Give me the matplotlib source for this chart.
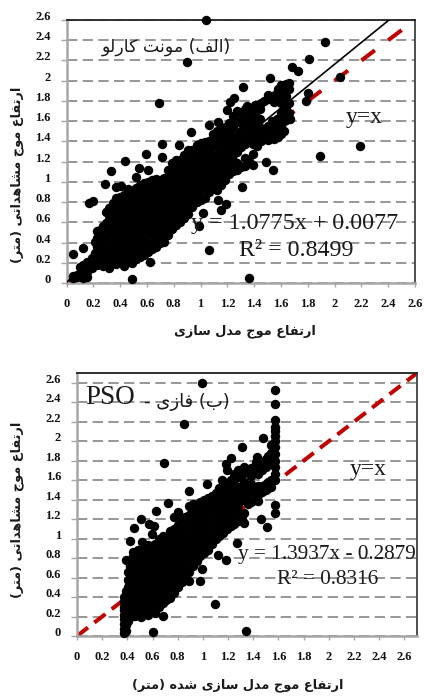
import matplotlib
matplotlib.use('Agg')
import matplotlib.pyplot as plt

W, H = 424, 697

# اشکال حروف: (isolated, final, initial, medial)
FORMS = {
    'ا': (0xFE8D, 0xFE8E, None, None), 'ب': (0xFE8F, 0xFE90, 0xFE91, 0xFE92),
    'ت': (0xFE95, 0xFE96, 0xFE97, 0xFE98), 'ج': (0xFE9D, 0xFE9E, 0xFE9F, 0xFEA0),
    'د': (0xFEA9, 0xFEAA, None, None), 'ر': (0xFEAD, 0xFEAE, None, None),
    'ز': (0xFEAF, 0xFEB0, None, None), 'س': (0xFEB1, 0xFEB2, 0xFEB3, 0xFEB4),
    'ش': (0xFEB5, 0xFEB6, 0xFEB7, 0xFEB8), 'ع': (0xFEC9, 0xFECA, 0xFECB, 0xFECC),
    'ف': (0xFED1, 0xFED2, 0xFED3, 0xFED4), 'ک': (0xFB8E, 0xFB8F, 0xFB90, 0xFB91),
    'ل': (0xFEDD, 0xFEDE, 0xFEDF, 0xFEE0), 'م': (0xFEE1, 0xFEE2, 0xFEE3, 0xFEE4),
    'ن': (0xFEE5, 0xFEE6, 0xFEE7, 0xFEE8), 'ه': (0xFEE9, 0xFEEA, 0xFEEB, 0xFEEC),
    'و': (0xFEED, 0xFEEE, None, None), 'ی': (0xFBFC, 0xFBFD, 0xFBFE, 0xFBFF),
}
MIRROR = {'(': ')', ')': '('}


def fa(text):
    # matplotlib does not shape Arabic script, so pick the forms and reverse
    out = []
    for i, c in enumerate(text):
        if c not in FORMS:
            out.append(MIRROR.get(c, c))
            continue
        prev = text[i - 1] if i > 0 else ''
        nxt = text[i + 1] if i + 1 < len(text) else ''
        from_prev = prev in FORMS and FORMS[prev][2] is not None
        to_next = nxt in FORMS and FORMS[c][2] is not None
        idx = {(0, 0): 0, (1, 0): 1, (0, 1): 2, (1, 1): 3}[(int(from_prev), int(to_next))]
        out.append(chr(FORMS[c][idx]))
    return ''.join(reversed(out))


# الف - مونت کارلو
outliers_a = [(1.04, 2.6), (1.93, 2.38), (0.90, 2.18), (1.81, 2.21), (1.68, 2.14), (1.73, 2.10),
              (2.04, 2.04), (1.52, 2.03), (1.32, 1.94), (0.69, 1.78), (2.19, 1.35), (1.89, 1.26),
              (1.49, 1.20), (1.54, 1.12), (1.31, 0.95), (1.06, 0.33), (1.36, 0.05), (0.49, 0.04),
              (0.62, 0.21), (0.05, 0.29), (0.12, 0.35), (0.17, 0.795), (0.20, 0.81), (0.33, 1.105),
              (0.29, 0.98), (0.44, 1.21), (0.54, 1.14), (0.61, 1.115), (0.52, 1.05), (0.59, 1.28),
              (0.71, 1.25), (0.71, 1.37), (0.84, 1.36), (0.93, 1.49), (1.06, 1.56), (1.13, 1.59),
              (1.25, 1.83), (1.22, 1.79), (1.20, 1.71), (1.02, 0.69), (0.99, 0.56), (1.19, 0.78),
              (1.155, 0.72), (1.13, 0.825), (0.41, 0.96), (0.37, 0.95), (1.80, 1.88), (1.79, 1.80),
              (1.67, 1.62), (1.64, 1.61)]
cloud_a = [
    (0.05, [0.07, 0.05]), (0.08, [0.06, 0.08]), (0.12, [0.05, 0.08, 0.13, 0.18]),
    (0.15, [0.06, 0.11, 0.16, 0.21]), (0.19, [0.15, 0.21, 0.25]),
    (0.23, [0.18, 0.27, 0.36, 0.44, 0.51]), (0.27, [0.17, 0.24, 0.32, 0.40, 0.48, 0.56]),
    (0.32, [0.15, 0.23, 0.31, 0.39, 0.47, 0.55, 0.63, 0.68, 0.74]),
    (0.37, [0.19, 0.27, 0.35, 0.43, 0.51, 0.59, 0.67, 0.75, 0.84]),
    (0.43, [0.17, 0.25, 0.33, 0.41, 0.49, 0.57, 0.65, 0.73, 0.80, 0.87]),
    (0.49, [0.20, 0.27, 0.35, 0.43, 0.51, 0.59, 0.67, 0.75, 0.83, 0.91]),
    (0.55, [0.26, 0.33, 0.41, 0.49, 0.57, 0.65, 0.73, 0.81, 0.89, 0.97]),
    (0.61, [0.31, 0.39, 0.47, 0.55, 0.63, 0.71, 0.79, 0.87, 0.95, 1.00]),
    (0.67, [0.36, 0.44, 0.52, 0.60, 0.68, 0.76, 0.84, 0.92, 1.00, 1.03]),
    (0.73, [0.41, 0.49, 0.57, 0.65, 0.73, 0.81, 0.89, 0.97, 1.04]),
    (0.79, [0.53, 0.61, 0.69, 0.77, 0.85, 0.93, 1.01, 1.09, 1.19]),
    (0.85, [0.60, 0.68, 0.76, 0.84, 0.92, 1.00, 1.08, 1.16, 1.22]),
    (0.91, [0.68, 0.76, 0.84, 0.92, 1.00, 1.08, 1.16, 1.24, 1.31]),
    (0.97, [0.80, 0.88, 0.96, 1.04, 1.12, 1.20, 1.28, 1.36]),
    (1.03, [0.84, 0.94, 1.02, 1.10, 1.18, 1.26, 1.34, 1.39]),
    (1.09, [0.95, 1.03, 1.11, 1.19, 1.27, 1.35, 1.43, 1.47]),
    (1.15, [0.97, 1.06, 1.14, 1.22, 1.30, 1.38, 1.46, 1.52]),
    (1.21, [1.08, 1.15, 1.24, 1.32, 1.40, 1.48, 1.58]),
    (1.27, [1.12, 1.19, 1.30, 1.37, 1.46, 1.60, 1.70]),
    (1.33, [1.16, 1.24, 1.37, 1.43, 1.55, 1.63, 1.72]),
    (1.39, [1.17, 1.28, 1.37, 1.47, 1.55, 1.67, 1.73]),
    (1.45, [1.40, 1.47, 1.53, 1.78]),
    (1.50, [1.41, 1.50, 1.55, 1.82, 1.86]),
    (1.55, [1.42, 1.51, 1.57, 1.79, 1.85]),
    (1.60, [1.47, 1.55, 1.68, 1.78, 1.88, 1.96]),
    (1.64, [1.72, 1.85, 1.97]),
    # the dense core, between the columns above
    (0.10, [0.10, 0.16]), (0.21, [0.22, 0.30, 0.41]), (0.25, [0.20, 0.28, 0.36, 0.44, 0.52]),
    (0.295, [0.19, 0.27, 0.35, 0.43, 0.51, 0.59, 0.70]),
    (0.345, [0.23, 0.31, 0.39, 0.47, 0.55, 0.63, 0.71, 0.79]),
    (0.40, [0.21, 0.29, 0.37, 0.45, 0.53, 0.61, 0.69, 0.77, 0.85]),
    (0.46, [0.21, 0.29, 0.37, 0.45, 0.53, 0.61, 0.69, 0.77, 0.85, 0.93]),
    (0.52, [0.24, 0.31, 0.39, 0.47, 0.55, 0.63, 0.71, 0.79, 0.87, 0.94]),
    (0.58, [0.28, 0.37, 0.45, 0.53, 0.61, 0.69, 0.77, 0.85, 0.93, 0.99]),
    (0.64, [0.34, 0.40, 0.48, 0.56, 0.64, 0.72, 0.80, 0.88, 0.96, 1.02]),
    (0.70, [0.40, 0.46, 0.54, 0.62, 0.70, 0.78, 0.86, 0.94, 1.02]),
    (0.76, [0.47, 0.55, 0.63, 0.71, 0.79, 0.87, 0.95, 1.03, 1.12]),
    (0.82, [0.57, 0.65, 0.73, 0.81, 0.89, 0.97, 1.05, 1.13, 1.22]),
    (0.88, [0.64, 0.72, 0.80, 0.88, 0.96, 1.04, 1.12, 1.20, 1.27]),
    (0.94, [0.75, 0.83, 0.91, 0.99, 1.07, 1.15, 1.23, 1.31]),
    (1.00, [0.82, 0.92, 1.00, 1.08, 1.16, 1.24, 1.32, 1.38]),
    (1.06, [0.90, 1.00, 1.08, 1.16, 1.24, 1.32, 1.40]),
    (1.12, [0.92, 1.02, 1.10, 1.18, 1.26, 1.34, 1.42, 1.50]),
    (1.18, [1.02, 1.12, 1.20, 1.28, 1.36, 1.44, 1.54]),
    (1.24, [1.11, 1.22, 1.28, 1.36, 1.44, 1.54, 1.65]),
    (1.30, [1.15, 1.34, 1.40, 1.50, 1.58, 1.68]),
    (1.36, [1.21, 1.41, 1.50, 1.60, 1.70]),
    (1.42, [1.35, 1.44, 1.50, 1.63, 1.71]),
    (1.47, [1.43, 1.50, 1.80]), (1.58, [1.44, 1.60, 1.82, 1.92]),
    # upper arm, around and above the fit
    (1.35, [1.66, 1.75]), (1.41, [1.60, 1.76]), (1.44, [1.62, 1.72]), (1.53, [1.46, 1.60, 1.85]),
    (1.57, [1.52, 1.62, 1.88]), (1.62, [1.50, 1.60, 1.72, 1.90]), (1.66, [1.68, 1.78, 1.92, 1.98]),
]

# ب - فازی PSO
outliers_b = [(0.99, 2.6), (1.57, 2.53), (1.57, 2.38), (1.57, 2.215), (0.85, 2.18), (1.31, 1.94),
              (1.48, 2.03), (0.69, 1.78), (1.57, 1.35), (1.57, 1.26), (1.46, 1.20), (1.51, 1.12),
              (1.27, 0.955), (1.18, 0.78), (1.12, 0.83), (0.99, 0.69), (0.98, 0.56), (0.89, 0.565),
              (1.095, 0.33), (1.34, 0.05), (0.60, 0.04), (0.68, 0.21), (0.51, 1.205), (0.45, 1.11),
              (0.57, 1.15), (0.61, 1.13), (0.595, 1.05), (0.63, 1.28), (0.72, 1.37), (0.42, 0.98),
              (0.515, 0.965), (0.445, 0.86), (0.39, 0.785), (0.89, 1.49), (1.03, 1.56), (1.15, 1.60),
              (1.22, 1.83), (1.18, 1.77), (1.19, 1.70), (1.43, 1.84), (1.42, 1.79)]
cloud_b = [
    (0.37, [0.03, 0.07, 0.12, 0.17, 0.30, 0.35]), (0.39, [0.05, 0.11, 0.18, 0.25, 0.32, 0.39, 0.46]),
    (0.42, [0.19, 0.26, 0.33, 0.40, 0.47, 0.54, 0.61, 0.72]),
    (0.46, [0.21, 0.28, 0.35, 0.42, 0.49, 0.56, 0.63, 0.70, 0.78, 0.84]),
    (0.51, [0.20, 0.28, 0.36, 0.44, 0.52, 0.60, 0.68, 0.76, 0.82]),
    (0.56, [0.22, 0.30, 0.38, 0.46, 0.54, 0.62, 0.70, 0.78, 0.85, 0.93]),
    (0.62, [0.24, 0.32, 0.40, 0.48, 0.56, 0.64, 0.72, 0.80, 0.88, 0.94]),
    (0.68, [0.34, 0.42, 0.50, 0.58, 0.66, 0.74, 0.82, 0.90, 0.98, 1.03]),
    (0.74, [0.39, 0.47, 0.55, 0.63, 0.71, 0.79, 0.87, 0.95, 1.03, 1.08]),
    (0.80, [0.50, 0.58, 0.66, 0.74, 0.82, 0.90, 0.98, 1.06, 1.14, 1.27]),
    (0.86, [0.60, 0.68, 0.76, 0.84, 0.92, 1.00, 1.08, 1.16, 1.22]),
    (0.92, [0.72, 0.80, 0.88, 0.96, 1.04, 1.12, 1.20, 1.28, 1.36]),
    (0.98, [0.82, 0.90, 0.98, 1.06, 1.14, 1.22, 1.30, 1.38]),
    (1.04, [0.88, 0.96, 1.04, 1.12, 1.20, 1.28, 1.36, 1.42]),
    (1.10, [1.00, 1.08, 1.16, 1.24, 1.32, 1.40, 1.47]),
    (1.16, [1.06, 1.14, 1.22, 1.30, 1.38, 1.46, 1.54]),
    (1.22, [1.13, 1.20, 1.28, 1.36, 1.44, 1.52, 1.60]),
    (1.28, [1.18, 1.28, 1.36, 1.44, 1.53, 1.63, 1.70]),
    (1.33, [1.16, 1.26, 1.42, 1.50, 1.58, 1.67, 1.73]),
    (1.38, [1.38, 1.48, 1.56, 1.64, 1.72]),
    (1.44, [1.39, 1.45, 1.54, 1.66, 1.74]),
    (1.50, [1.50, 1.56, 1.73, 1.82]),
    (1.54, [1.53, 1.60, 1.82, 1.88, 1.96]),
    (1.575, [1.60, 1.66, 1.73, 1.80, 1.87, 1.94, 2.00, 2.05, 2.10, 2.15]),
    # the dense core, between the columns above
    (0.375, [0.22, 0.27, 0.40]), (0.405, [0.15, 0.22, 0.29, 0.36, 0.43, 0.50, 0.57, 0.66]),
    (0.44, [0.22, 0.30, 0.38, 0.45, 0.52, 0.59, 0.66, 0.74, 0.80]),
    (0.485, [0.24, 0.32, 0.40, 0.48, 0.56, 0.64, 0.72, 0.79, 0.88]),
    (0.535, [0.24, 0.34, 0.42, 0.50, 0.58, 0.66, 0.74, 0.81, 0.89]),
    (0.59, [0.26, 0.36, 0.44, 0.52, 0.60, 0.68, 0.76, 0.84, 0.92]),
    (0.65, [0.30, 0.38, 0.46, 0.54, 0.62, 0.70, 0.78, 0.86, 0.94, 1.00]),
    (0.71, [0.37, 0.45, 0.53, 0.61, 0.69, 0.77, 0.85, 0.93, 1.01]),
    (0.77, [0.44, 0.54, 0.62, 0.70, 0.78, 0.86, 0.94, 1.02, 1.10, 1.22]),
    (0.83, [0.55, 0.64, 0.72, 0.80, 0.88, 0.96, 1.04, 1.12, 1.19]),
    (0.89, [0.66, 0.76, 0.84, 0.92, 1.00, 1.08, 1.16, 1.24, 1.33]),
    (0.95, [0.77, 0.86, 0.94, 1.02, 1.10, 1.18, 1.26, 1.34]),
    (1.01, [0.85, 0.94, 1.02, 1.10, 1.18, 1.26, 1.34, 1.40]),
    (1.07, [0.94, 1.04, 1.12, 1.20, 1.28, 1.36, 1.44]),
    (1.13, [1.03, 1.12, 1.20, 1.28, 1.36, 1.44, 1.52]),
    (1.19, [1.10, 1.18, 1.26, 1.34, 1.42, 1.50, 1.57]),
    (1.25, [1.15, 1.24, 1.32, 1.40, 1.48, 1.56, 1.66]),
    (1.31, [1.20, 1.40, 1.46, 1.54, 1.70]),
    (1.36, [1.36, 1.46, 1.52, 1.70]), (1.41, [1.40, 1.50, 1.68, 1.72]),
    (1.47, [1.48, 1.54, 1.70, 1.77]), (1.52, [1.52, 1.58, 1.78, 1.85]),
]

ticks = [0, 0.2, 0.4, 0.6, 0.8, 1, 1.2, 1.4, 1.6, 1.8, 2, 2.2, 2.4, 2.6]
tick_labels = ['0', '0.2', '0.4', '0.6', '0.8', '1', '1.2', '1.4', '1.6', '1.8', '2', '2.2', '2.4', '2.6']

fit_a = (1.0775, 0.0077)
fit_b = (1.3937, -0.2879)

SERIF = 'Liberation Serif'
RED = '#c00000'
GRAY = '#a6a6a6'
GRID = '#858585'

fig = plt.figure(figsize=(W / 100, H / 100), dpi=100)


def txt(x, y, s, **kw):
    kw.setdefault('ha', 'center')
    kw.setdefault('va', 'center')
    kw.setdefault('color', '#1a1a1a')
    return fig.text(x / W, 1 - y / H, s, zorder=10, **kw)


def panel(box, lim, outliers, cloud, fit, fit_range, red_dash, xpad):
    left, right, top, bottom = box
    ax = fig.add_axes([left / W, 1 - bottom / H, (right - left) / W, (bottom - top) / H])
    ax.set_xlim(0, lim)
    ax.set_ylim(0, lim)
    for t in ticks:
        ax.plot([0, lim], [t, t], color=GRID, lw=1.2, dashes=(6.2, 3.2), zorder=1)
    ax.plot([0, lim], [0, lim], color=RED, lw=2.9, dashes=red_dash, zorder=2)
    xs = [p[0] for p in outliers]
    ys = [p[1] for p in outliers]
    for cx, col in cloud:
        xs += [cx] * len(col)
        ys += col
    ax.plot(fit_range, [fit[0] * v + fit[1] for v in fit_range], color='black', lw=1.2, zorder=3)
    ax.scatter(xs, ys, s=46, color='black', linewidths=0, zorder=4, clip_on=False)
    ax.set_xticks(ticks)
    ax.set_yticks(ticks)
    ax.set_xticklabels(tick_labels, fontfamily=SERIF, fontweight='bold', fontsize=9, color='#111111')
    ax.set_yticklabels(tick_labels, fontfamily=SERIF, fontweight='bold', fontsize=9, color='#111111',
                       va='baseline')
    ax.tick_params(axis='both', length=3, width=1, color=GRAY)
    ax.tick_params(axis='x', pad=xpad)
    ax.tick_params(axis='y', length=4, pad=7.5)
    for name in ['left', 'bottom']:
        ax.spines[name].set_color(GRAY)
        ax.spines[name].set_linewidth(1.8)
    ax.spines['right'].set_color('#404040')
    ax.spines['right'].set_linewidth(1.3)
    ax.spines['top'].set_color('#202020')
    ax.spines['top'].set_linewidth(1.3)
    return ax


panel((66.5, 415, 20, 283), 2.6, outliers_a, cloud_a, fit_a, [0.0, 2.406], (4.17, 4.17), 8)
panel((77, 417, 373, 636), 2.7, outliers_b, cloud_b, fit_b, [0.38, 1.58], (3.45, 2.0), 7.5)

# متن های نمودار بالا
txt(166, 47, fa('(الف) مونت کارلو'), fontsize=12.5)
txt(364, 118, 'y=x', family=SERIF, fontsize=17)
txt(295, 224, 'y = 1.0775x + 0.0077', family=SERIF, fontsize=17.3)
txt(296, 251, 'R² = 0.8499', family=SERIF, fontsize=17.3)
txt(17, 175, fa('ارتفاع موج مشاهداتی (متر)'), rotation=90, fontsize=9.3, fontweight='bold')
txt(245, 331, fa('ارتفاع موج مدل سازی'), fontsize=9.3, fontweight='bold')

# متن های نمودار پایین
txt(110, 398, 'PSO', family=SERIF, fontsize=19.5)
txt(187, 402, '- ' + fa('(ب) فازی'), fontsize=13)
txt(368, 469, 'y=x', family=SERIF, fontsize=17)
txt(327, 555, 'y = 1.3937x - 0.2879', family=SERIF, fontsize=15.3)
txt(328, 580, 'R² = 0.8316', family=SERIF, fontsize=15.3)
txt(17, 510, fa('ارتفاع موج مشاهداتی (متر)'), rotation=90, fontsize=9.3, fontweight='bold')
txt(238, 685, fa('ارتفاع موج مدل سازی شده (متر)'), fontsize=9.3, fontweight='bold')

fig.savefig('out.png', dpi=100)
